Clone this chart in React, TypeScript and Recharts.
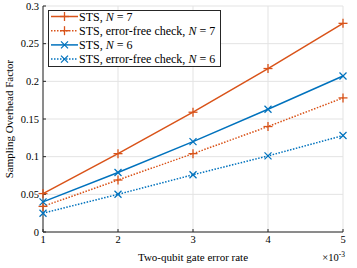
import React from 'react';
import { LineChart, Line, XAxis, YAxis, CartesianGrid } from 'recharts';

const errorRates = [1, 2, 3, 4, 5];
const stsN7 = [0.051, 0.104, 0.159, 0.217, 0.277];
const stsEfN7 = [0.034, 0.069, 0.104, 0.14, 0.178];
const stsN6 = [0.04, 0.079, 0.12, 0.163, 0.207];
const stsEfN6 = [0.025, 0.05, 0.076, 0.101, 0.128];
const xTicks = [1, 2, 3, 4, 5];
const yTicks = [0, 0.05, 0.1, 0.15, 0.2, 0.25, 0.3];

const data = errorRates.map((x, i) => ({ x, a: stsN7[i], b: stsEfN7[i], c: stsN6[i], d: stsEfN6[i] }));

const ORANGE = '#D95319';
const BLUE = '#0072BD';
const AXIS = '#262626';
const FONT = '"Liberation Serif", "Times New Roman", serif';

const Plus = (props: any) => {
  const { cx, cy, stroke } = props;
  if (cx == null || cy == null) return null;
  const s = 4.5;
  return (
    <g>
      <line x1={cx - s} y1={cy} x2={cx + s} y2={cy} stroke={stroke} strokeWidth={1.3} />
      <line x1={cx} y1={cy - s} x2={cx} y2={cy + s} stroke={stroke} strokeWidth={1.3} />
    </g>
  );
};
const Cross = (props: any) => {
  const { cx, cy, stroke } = props;
  if (cx == null || cy == null) return null;
  const s = 3.5;
  return (
    <g>
      <line x1={cx - s} y1={cy - s} x2={cx + s} y2={cy + s} stroke={stroke} strokeWidth={1.3} />
      <line x1={cx - s} y1={cy + s} x2={cx + s} y2={cy - s} stroke={stroke} strokeWidth={1.3} />
    </g>
  );
};

const legendItems = [
  { pre: 'STS, ', n: '7', color: ORANGE, dash: undefined, mk: 'plus' },
  { pre: 'STS, error-free check, ', n: '7', color: ORANGE, dash: '1.5 1.5', mk: 'plus' },
  { pre: 'STS, ', n: '6', color: BLUE, dash: undefined, mk: 'cross' },
  { pre: 'STS, error-free check, ', n: '6', color: BLUE, dash: '1.5 1.5', mk: 'cross' },
];

const LegendBox = () => (
  <svg width={174} height={58} style={{ display: 'block' }}>
    <rect x={0.5} y={0.5} width={172} height={56} fill="#fff" stroke={AXIS} strokeWidth={1} />
    {legendItems.map((it, i) => {
      const y = 6.5 + i * 14.2;
      return (
        <g key={i}>
          <line x1={3} y1={y} x2={30} y2={y} stroke={it.color} strokeWidth={1.5} strokeDasharray={it.dash} />
          {it.mk === 'plus' ? <Plus cx={16.5} cy={y} stroke={it.color} /> : <Cross cx={16.5} cy={y} stroke={it.color} />}
          <text x={31} y={y + 4} style={{ fontFamily: FONT }} fontSize={12} fill="#000">
            {it.pre}
            <tspan fontStyle="italic">N</tspan>
            {' = ' + it.n}
          </text>
        </g>
      );
    })}
  </svg>
);

const YLabel = (props: any) => {
  const vb = props.viewBox || {};
  const x = 9;
  const y = vb.y + vb.height / 2;
  return (
    <text x={x} y={y} transform={`rotate(-90, ${x}, ${y})`} textAnchor="middle" dominantBaseline="central" style={{ fontFamily: FONT }} fontSize={11} fill="#000">
      Sampling Overhead Factor
    </text>
  );
};

const XLabel = (props: any) => {
  const vb = props.viewBox || {};
  const cx = vb.x + vb.width / 2;
  const right = vb.x + vb.width;
  return (
    <g>
      <text x={cx} y={261} textAnchor="middle" style={{ fontFamily: FONT }} fontSize={11} fill="#000">
        Two-qubit gate error rate
      </text>
      <text x={right + 2} y={261} textAnchor="end" style={{ fontFamily: FONT }} fontSize={10.5} fill="#000">
        ×10<tspan dy={-4} fontSize={7.5}>-3</tspan>
      </text>
    </g>
  );
};

const fmt = (v: number) => String(v);

export default function App() {
  return (
    <div style={{ position: 'absolute', left: 0, top: 0, width: 357, height: 268, background: '#fff', fontFamily: FONT }}>
      <LineChart width={357} height={268} data={data} margin={{ top: 6, right: 14, bottom: 0, left: 0 }}>
        <CartesianGrid stroke="#e3e3e3" strokeWidth={1} />
        <XAxis
          dataKey="x"
          type="number"
          domain={[1, 5]}
          ticks={xTicks}
          height={36}
          stroke={AXIS}
          tickSize={-3}
          tickMargin={7}
          tick={{ fontFamily: FONT, fontSize: 10.5, fill: '#000' }}
          label={{ content: XLabel }}
        />
        <XAxis xAxisId="top" orientation="top" dataKey="x" type="number" domain={[1, 5]} ticks={xTicks} height={0} stroke={AXIS} tickSize={-3} tick={false} />
        <YAxis
          type="number"
          domain={[0, 0.3]}
          ticks={yTicks}
          width={43}
          stroke={AXIS}
          tickSize={-3}
          tickMargin={7}
          tickFormatter={fmt}
          tick={{ fontFamily: FONT, fontSize: 10.5, fill: '#000' }}
          label={{ content: YLabel }}
        />
        <YAxis yAxisId="right" orientation="right" type="number" domain={[0, 0.3]} ticks={yTicks} width={0} stroke={AXIS} tickSize={-3} tick={false} />
        <Line dataKey="a" stroke={ORANGE} strokeWidth={1.5} dot={<Plus />} isAnimationActive={false} />
        <Line dataKey="b" stroke={ORANGE} strokeWidth={1.5} strokeDasharray="1.5 1.5" dot={<Plus />} isAnimationActive={false} />
        <Line dataKey="c" stroke={BLUE} strokeWidth={1.5} dot={<Cross />} isAnimationActive={false} />
        <Line dataKey="d" stroke={BLUE} strokeWidth={1.5} strokeDasharray="1.5 1.5" dot={<Cross />} isAnimationActive={false} />
      </LineChart>
      <div style={{ position: 'absolute', left: 48, top: 10 }}>
        <LegendBox />
      </div>
    </div>
  );
}
